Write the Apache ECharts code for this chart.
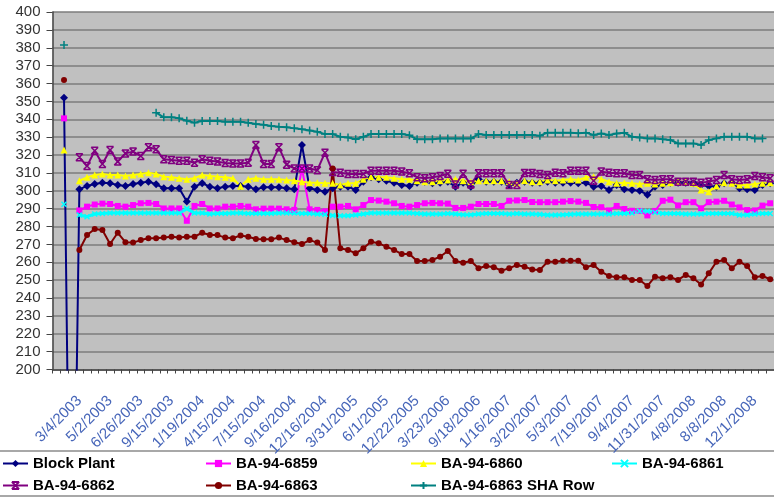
<!DOCTYPE html>
<html>
<head>
<meta charset="utf-8">
<script src="https://cdn.jsdelivr.net/npm/echarts@6/dist/echarts.min.js"></script>
<style>
  html, body { margin: 0; padding: 0; background: #fff; }
  #chart { width: 774px; height: 498px; }
</style>
</head>
<body>
<div id="chart"></div>
<script>
// dates shown on the x axis (every 4th sample, starting at sample 3)
const tickLabels = [
  "3/4/2003", "5/2/2003", "6/26/2003", "9/15/2003", "1/19/2004", "4/15/2004",
  "7/15/2004", "9/16/2004", "12/16/2004", "3/31/2005", "6/1/2005", "12/22/2005",
  "3/23/2006", "9/18/2006", "1/16/2007", "3/20/2007", "5/3/2007", "7/19/2007",
  "9/4/2007", "11/31/2007", "4/8/2008", "8/8/2008", "12/1/2008"
];
const sampleCount = 94;
const yTicks = [200, 400, 10]; // min, max, step

const blockPlant = [
  null, 352, 0, 300.8, 302.7, 303.8, 304.5, 304.2, 303.2, 302.7,
  303.8, 304.5, 305.1, 303.6, 301.4, 301.4, 301.4, 294, 302.3, 304.2,
  302.3, 301.4, 302.3, 302.7, 302.7, 302.3, 300.8, 301.9, 301.9, 301.9,
  301.4, 300.8, 325.6, 301.4, 300.4, 299.5, 301.4, 302.3, 302.3, 300.4,
  305.1, 307.5, 306.4, 305.6, 304.5, 303.2, 302.7, 304.5, 305.1, 304.2,
  304.5, 305.1, 302.3, 304.5, 302.3, 306.4, 305.1, 305.1, 305.1, 303.2,
  304.5, 305.1, 304.5, 304.5, 305.1, 304.5, 304.5, 304.5, 304.2, 304.5,
  302.3, 302.7, 300.4, 303.2, 300.8, 300.4, 300, 297.8, 302.3, 303.2,
  304.5, 304.5, 304.5, 304.2, 303.2, 302.7, 302.3, 304.2, 304.5, 301.4,
  300.8, 300.4, 303.2, 304.2
];
const ba6859 = [
  null, 340.5, null, 289, 291.1, 292.3, 292.8, 292.6, 291.5, 291.1,
  292, 293, 293.2, 292.6, 290.1, 290.1, 290.1, 283.2, 291.5, 292.6,
  290.1, 290.1, 291.1, 291.1, 291.5, 291.1, 289.6, 290, 290, 290,
  289.6, 289.3, 312.5, 289.6, 289.3, 288.5, 291.1, 291.1, 291.5, 289.6,
  292, 294.8, 294.5, 293.9, 293, 291.5, 291.1, 292, 293, 293.2,
  293, 292.8, 290.4, 290.4, 291.1, 292.6, 292.6, 292.6, 291.5, 294.4,
  294.6, 294.8, 293.7, 293.6, 293.6, 293.6, 293.9, 294.2, 293.9, 293.2,
  290.9, 290.8, 289, 291.5, 289.8, 288.8, 288.7, 286.2, 288.7, 294.4,
  295, 291.8, 293.6, 293.6, 290.2, 293.6, 293.9, 294.4, 292.3, 290.7,
  289.2, 289, 291.7, 293
];
const ba6860 = [
  null, 322.8, null, 305.6, 307.5, 308.8, 309.4, 308.8, 308.8, 308.3,
  308.8, 309.4, 310.1, 309.4, 307.9, 307.5, 307, 306.4, 307, 308.8,
  308.3, 307.9, 307.5, 307, 302.5, 306.4, 307, 306.4, 306.4, 306.4,
  306, 305.6, 305.1, 304.5, 304.5, 304.2, 304.2, 303.2, 304.2, 304.2,
  306.4, 307.9, 307.5, 307.5, 307, 306.4, 306.4, 305.6, 305.1, 305.1,
  305.6, 306, 306.4, 305.6, 305.1, 305.6, 305.6, 305.6, 305.6, 305.1,
  304.2, 305.6, 305.1, 305.1, 306, 305.6, 306, 306.4, 306, 307.5,
  307.9, 306.4, 305.1, 304.2, 304.5, 304.2, 303.8, 304.2, 303.8, 304.2,
  304.5, 305.1, 305.1, 304.2, 300.4, 299.5, 302.7, 304.5, 304.2, 303.2,
  303.2, 303.8, 304.2, 304.5
];
const ba6861 = [
  null, 292.4, null, 286.4, 285.5, 287, 287.3, 287.5, 287.5, 287.5,
  287.5, 287.5, 287.5, 287.5, 287.5, 287.5, 287.5, 290, 287.5, 287.5,
  287, 287.3, 287.3, 287.5, 287.5, 287.3, 287.3, 287.3, 287.3, 287.5,
  287.5, 287.5, 287.3, 287.3, 287, 286.8, 286.2, 286, 286, 286.4,
  287, 287.5, 287.5, 287.5, 287.5, 287.5, 287.5, 287.3, 287, 287,
  287, 287.3, 287, 286.6, 286.6, 287, 287.3, 287.3, 287.3, 287,
  287.3, 287, 287, 286.8, 286.4, 286.4, 286.6, 286.8, 287, 287,
  287, 287, 287, 287.3, 287.3, 287.5, 288.6, 288.5, 287.8, 287.3,
  287.3, 287.3, 287, 287, 287, 287.3, 287.3, 287.3, 287.3, 286.4,
  286.4, 287, 287.3, 287.3
];
const ba6862 = [
  null, null, null, 318.7, 313.8, 322.4, 315, 322.8, 316.3, 320.9,
  321.9, 319.4, 324.3, 323.2, 317.6, 317.2, 316.8, 316.8, 315.7, 317.6,
  316.8, 316.3, 315.5, 315.3, 315.3, 315.7, 325.6, 315, 315, 324.3,
  314.6, 312.5, 312.5, 312.5, 311.5, 321.3, 310.5, 310.1, 309.4, 309.4,
  309.4, 311.2, 311.2, 311.2, 311.2, 310.7, 309.8, 307.5, 307, 307.5,
  308.3, 309.5, 303.5, 309.5, 303.5, 309.8, 309.8, 309.8, 309.8, 303.2,
  303.2, 310, 310, 309.4, 308.8, 310.1, 309.8, 311.2, 311.2, 311.2,
  305.6, 310.7, 310.1, 309.8, 309.8, 308.8, 308.8, 306.4, 306, 306.4,
  306.4, 305.1, 305.1, 305.1, 304.5, 305.1, 306, 308.8, 306.4, 306,
  306.4, 308.3, 307.5, 307
];
const ba6863 = [
  null, 362, null, 266.9, 275.2, 278.6, 278, 270.2, 276.5, 271.2,
  271, 272.4, 273.4, 273.4, 273.9, 274.3, 273.9, 274.3, 274.3, 276.5,
  275.2, 275.2, 273.8, 273.4, 275, 274.3, 273, 272.8, 272.8, 273.8,
  272.4, 271.2, 270.2, 272.4, 271, 266.9, 312.5, 267.8, 266.9, 265,
  267.8, 271.5, 270.6, 268.7, 266.9, 264.6, 264.6, 260.7, 260.7, 261.3,
  263.1, 266.3, 260.7, 259.7, 260.7, 256.6, 257.9, 257.2, 255.3, 256.6,
  258.5, 257.5, 256, 255.7, 260.3, 260.3, 260.9, 260.9, 260.9, 257.2,
  258.5, 254.7, 252.3, 251.6, 251.6, 250.1, 250.1, 246.7, 251.9, 251,
  251.6, 250.1, 252.9, 251, 247.6, 253.8, 260.3, 261.3, 256.6, 260.3,
  257.9, 251.6, 252.3, 250.5
];
const ba6863Sha = [
  null, 381.5, null, null, null, null, null, null, null, null,
  null, null, null, 343.7, 341.1, 341.1, 340.5, 339.2, 338.1, 339,
  339, 339, 338.6, 338.6, 338.6, 338, 337.3, 336.9, 336.2, 335.8,
  335.5, 334.9, 334.4, 333.7, 333, 331.7, 331.7, 330.2, 329.8, 328.8,
  330.2, 331.7, 331.7, 331.7, 331.7, 331.7, 331, 328.8, 328.8, 328.8,
  329.2, 329.2, 329.2, 329.2, 329.2, 331.7, 331.2, 331.2, 331.2, 331.2,
  331.2, 331.2, 331.2, 330.8, 332.5, 332.5, 332.5, 332.5, 332.2, 332.5,
  331.2, 332, 331.2, 332, 332.5, 330.2, 329.8, 329.3, 329.3, 328.8,
  328.4, 326.5, 326.5, 326.5, 325.6, 328.4, 329.3, 330.2, 330.2, 330.2,
  330.2, 329.3, 329.3, null
];

// category list: dated samples carry their label, the rest stay blank
const categories = [];
for (let i = 0; i < sampleCount; i++) {
  const k = (i - 3) / 4;
  categories.push(Number.isInteger(k) && tickLabels[k] ? tickLabels[k] : "");
}

const FONT = "'Liberation Sans', Arial, sans-serif";
const starPath = "path://M0,0L10,0M0,10L10,10M0,0L10,10M10,0L0,10";
const xPath = "path://M0,0L10,10M10,0L0,10";
const plusPath = "path://M5,0L5,10M0,5L10,5";

function lineSeries(name, data, color, symbol, size, stroked, width) {
  return {
    name: name,
    type: "line",
    data: data,
    symbol: symbol,
    symbolSize: size,
    showAllSymbol: true,
    connectNulls: false,
    animation: false,
    lineStyle: { color: color, width: width || 2 },
    itemStyle: stroked
      ? { color: color, borderColor: color, borderWidth: 1.5 }
      : { color: color, borderWidth: 0 },
  };
}

const legendText = { fontFamily: FONT, fontSize: 15, fontWeight: "bold", color: "#000" };
function legendAt(name, left, top) {
  return {
    data: [name], left: left, top: top, padding: 0,
    itemWidth: 25, itemHeight: 9, itemGap: 5,
    textStyle: legendText,
  };
}

const chart = echarts.init(document.getElementById("chart"));
chart.setOption({
  animation: false,
  backgroundColor: "#fff",
  grid: {
    left: 52.5, right: 0, top: 12, bottom: 128.5,
    show: true, backgroundColor: "#c0c0c0", borderWidth: 0,
  },
  graphic: [{
    type: "rect", z: 0,
    shape: { x: -2, y: 451, width: 778, height: 45 },
    style: { fill: "none", stroke: "#8c8c8c", lineWidth: 1.5 },
  }],
  legend: [
    legendAt("Block Plant", 2, 456),
    legendAt("BA-94-6859", 205, 456),
    legendAt("BA-94-6860", 410, 456),
    legendAt("BA-94-6861", 611, 456),
    legendAt("BA-94-6862", 2, 478),
    legendAt("BA-94-6863", 205, 478),
    legendAt("BA-94-6863 SHA Row", 410, 478),
  ],
  xAxis: {
    type: "category",
    data: categories,
    boundaryGap: true,
    axisLine: { lineStyle: { color: "#444", width: 1.5 } },
    axisTick: { show: true, interval: 0, length: 4, lineStyle: { color: "#444" } },
    axisLabel: {
      interval: 0,
      rotate: 45,
      margin: 29,
      color: "#4766b9",
      fontFamily: FONT,
      fontSize: 15,
    },
    splitLine: { show: false },
  },
  yAxis: {
    type: "value",
    min: yTicks[0],
    max: yTicks[1],
    interval: yTicks[2],
    axisLine: { show: true, lineStyle: { color: "#444", width: 1.5 } },
    axisTick: { show: true, length: 6, lineStyle: { color: "#444" } },
    axisLabel: { color: "#333", fontFamily: FONT, fontSize: 15, margin: 12 },
    splitLine: { lineStyle: { color: "#7c7c7c", width: 1.5 } },
  },
  series: [
    lineSeries("Block Plant", blockPlant, "#000080", "diamond", 8, false),
    lineSeries("BA-94-6859", ba6859, "#ff00ff", "rect", 6, false),
    lineSeries("BA-94-6860", ba6860, "#ffff00", "triangle", 7, false),
    lineSeries("BA-94-6861", ba6861, "#00ffff", xPath, 5, true, 3),
    lineSeries("BA-94-6862", ba6862, "#800080", starPath, 7, true),
    lineSeries("BA-94-6863", ba6863, "#800000", "circle", 6, false),
    lineSeries("BA-94-6863 SHA Row", ba6863Sha, "#008080", plusPath, 8, true),
  ],
});
</script>
</body>
</html>
